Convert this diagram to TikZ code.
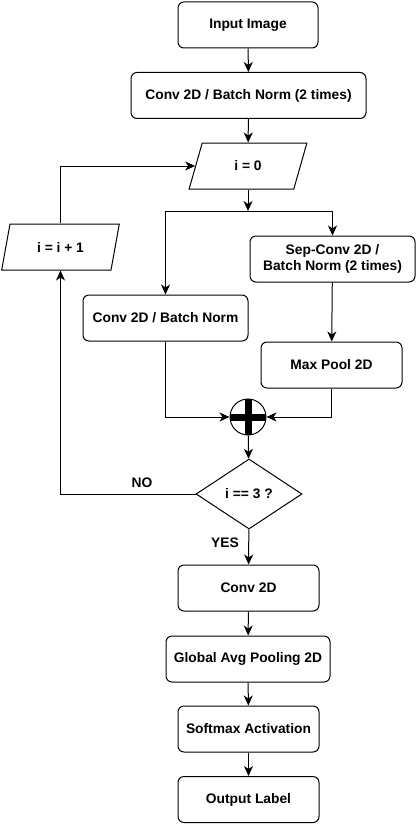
\documentclass[tikz,border=0pt]{standalone}
\usepackage{fontspec}
\setmainfont{Liberation Sans}
\usetikzlibrary{arrows.meta,shapes.geometric}

\begin{document}
\begin{tikzpicture}[x=1pt, y=-1pt, line width=1pt,
		>={Stealth[length=10pt, width=9pt, inset=3pt]},
		every node/.style={font=\bfseries\fontsize{13.8}{16}\selectfont},
		box/.style={draw, rounded corners=6pt, minimum height=46pt, align=center, inner sep=2pt},
		para/.style={draw, trapezium, trapezium left angle=69, trapezium right angle=111, trapezium stretches=true, minimum width=118pt, minimum height=46pt, inner sep=0pt},
		cond/.style={draw, diamond, minimum width=106pt, minimum height=70pt, inner sep=0pt},
		sumnode/.style={draw, circle, minimum size=36pt, inner sep=0pt,
			path picture={\draw[line width=7pt] (path picture bounding box.north) -- (path picture bounding box.south) (path picture bounding box.west) -- (path picture bounding box.east);}}]
		\useasboundingbox (0,0) rectangle (416,824);
		\node[box, minimum width=140pt] (in) at (248,25) {Input Image};
		\node[box, minimum width=235pt] (conv) at (248.5,95.5) {Conv 2D / Batch Norm (2 times)};
		\node[para] (init) at (248,166) {i = 0};
		\node[para] (inc) at (60.5,247) {i = i + 1};
		\coordinate (split) at (248,211);
		\node[box, minimum width=165pt] (sepconv) at (332.5,259) {Sep-Conv 2D /\\Batch Norm (2 times)};
		\node[box, minimum width=165pt] (convbn) at (165.5,318) {Conv 2D / Batch Norm};
		\node[box, minimum width=141pt] (pool) at (331.5,365) {Max Pool 2D};
		\node[sumnode] (sum) at (248,417) {};
		\node[cond] (check) at (249,494) {i == 3 ?};
		\node (no) at (142,483) {NO};
		\node (yes) at (225,543) {YES};
		\node[box, minimum width=141pt] (conv2) at (248.5,588) {Conv 2D};
		\node[box, minimum width=164pt] (gap) at (248,659) {Global Avg Pooling 2D};
		\node[box, minimum width=141pt] (soft) at (248.5,729) {Softmax Activation};
		\node[box, minimum width=141pt] (out) at (248.5,799.5) {Output Label};
		\path[->]
		(in) edge (conv)
		(conv) edge (init)
		(init) edge (split)
		(sepconv) edge (pool)
		(sum) edge (check)
		(check) edge (conv2)
		(conv2) edge (gap)
		(gap) edge (soft)
		(soft) edge (out);
		\draw[->] (split) -| (sepconv.north);
		\draw[->] (split) -| (convbn.north);
		\draw[->] (convbn.south) |- (sum.west);
		\draw[->] (pool.south) |- (sum.east);
		\draw[->] (check.west) -| (inc.south);
		\draw[->] (inc.north) |- (init.west);
	\end{tikzpicture}
\end{document}
